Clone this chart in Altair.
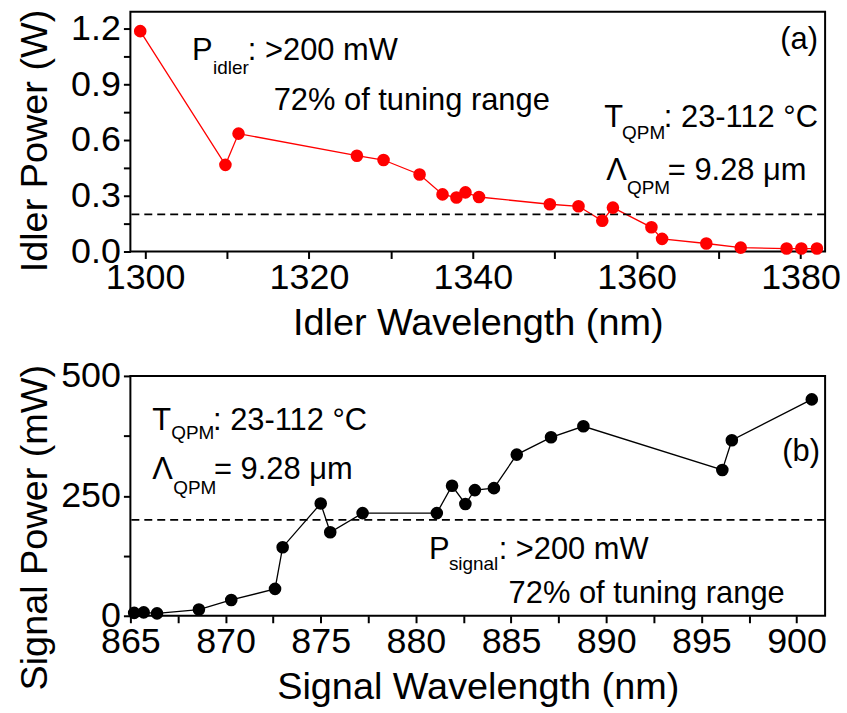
import altair as alt
import pandas as pd

FONT = "Liberation Sans"

# ---------------- data ----------------
idler_wl = [1299.4, 1309.8, 1311.4, 1325.85, 1329.1, 1333.5, 1336.3, 1338.0, 1339.1, 1340.75,
            1349.4, 1352.9, 1355.8, 1357.1, 1361.8, 1363.1, 1368.5, 1372.7, 1378.3, 1380.1, 1382.0]
idler_pw = [1.185, 0.466, 0.634, 0.515, 0.492, 0.414, 0.307, 0.290, 0.318, 0.293,
            0.254, 0.243, 0.165, 0.236, 0.130, 0.068, 0.043, 0.021, 0.016, 0.016, 0.016]

signal_wl = [865.2, 865.7, 866.4, 868.6, 870.3, 872.6, 873.0, 875.0, 875.5, 877.2, 881.1,
             881.9, 882.6, 883.1, 884.1, 885.3, 887.1, 888.8, 896.1, 896.6, 900.8]
signal_pw = [6, 7, 5, 13, 33, 56, 143, 234, 174, 214, 214,
             271, 233, 262, 266, 336, 372, 395, 304, 366, 451]

idler_threshold = [0.2]
signal_threshold = [200]

idler_x_major = [1300, 1320, 1340, 1360, 1380]
idler_x_minor = [1310, 1330, 1350, 1370]
idler_y_major = [0.0, 0.3, 0.6, 0.9, 1.2]
idler_y_minor = [0.15, 0.45, 0.75, 1.05]

signal_x_major = [865, 870, 875, 880, 885, 890, 895, 900]
signal_x_minor = [867.5, 872.5, 877.5, 882.5, 887.5, 892.5, 897.5]
signal_y_major = [0, 250, 500]
signal_y_minor = [125, 375]

W, H = 698, 241
TICK = 7


def txt(s, x, y, size=31):
    return alt.Chart(pd.DataFrame({"d": [0]})).mark_text(
        text=s, x=x, y=y, align="left", baseline="alphabetic",
        font=FONT, fontSize=size, color="black")


def major_only(maj):
    lst = ",".join(repr(float(v)) for v in maj)
    return f"indexof([{lst}], datum.value) >= 0 ? datum.label : ''"


def panel(wl, pw, thr, xdom, ydom, xmaj, xmin, ymaj, ymin, color, xtitle, ytitle,
          yfmt, title_y, annotations):
    df = pd.DataFrame({"wl": wl, "pw": pw})
    xs = alt.Scale(domain=xdom, nice=False, zero=False)
    ys = alt.Scale(domain=ydom, nice=False, zero=False)

    xvals = sorted(xmaj + xmin)
    yvals = sorted(ymaj + ymin)

    line = alt.Chart(df).mark_line(color=color, strokeWidth=1.3).encode(
        x=alt.X("wl:Q", scale=xs, axis=alt.Axis(
            values=xvals, labelExpr=major_only(xmaj),
            ticks=True, tickSize=TICK, tickWidth=2, tickColor="#000000",
            domain=False, grid=False, labelFlush=False,
            labelOverlap=False, labelFontSize=36, labelPadding=2, format="d",
            title=xtitle, titleFontSize=38, titlePadding=9)),
        y=alt.Y("pw:Q", scale=ys, axis=alt.Axis(
            values=yvals, labelExpr=major_only(ymaj),
            ticks=True, tickSize=TICK, tickWidth=2, tickColor="#000000",
            domain=False, grid=False, labelFlush=False,
            labelOverlap=False, labelFontSize=36, labelPadding=3, format=yfmt,
            title=ytitle, titleFontSize=38, titlePadding=14, titleY=title_y,
            minExtent=62, maxExtent=62)),
    )
    pts = alt.Chart(df).mark_circle(color=color, size=160, opacity=1).encode(
        x=alt.X("wl:Q", scale=xs, axis=None),
        y=alt.Y("pw:Q", scale=ys, axis=None),
    )

    rule = alt.Chart(pd.DataFrame({"t": thr})).mark_rule(
        color="black", strokeWidth=1.8, strokeDash=[8, 5]).encode(
        y=alt.Y("t:Q", scale=ys, axis=None))

    texts = [txt(*a) for a in annotations]
    return alt.layer(line, rule, pts, *texts).resolve_axis(
        x="independent", y="independent").properties(width=W, height=H)


top = panel(
    idler_wl, idler_pw, idler_threshold, [1298.2, 1383.0], [0, 1.29],
    idler_x_major, idler_x_minor, idler_y_major, idler_y_minor, "#ff0000",
    "Idler Wavelength (nm)", "Idler Power (W)", ".1f", 129.5,
    [("P", 62, 49), ("idler", 83, 63, 19), (": >200 mW", 118, 49),
     ("72% of tuning range", 144, 99),
     ("(a)", 653, 38),
     ("T", 476, 116), ("QPM", 494, 128, 19), (": 23-112 °C", 536, 116),
     ("Λ", 478, 169), ("QPM", 499, 183, 19), ("= 9.28 μm", 540, 169)],
)

bottom = panel(
    signal_wl, signal_pw, signal_threshold, [865, 901.5], [0, 500],
    signal_x_major, signal_x_minor, signal_y_major, signal_y_minor, "black",
    "Signal Wavelength (nm)", "Signal Power (mW)", "d", 152,
    [("T", 22, 54), ("QPM", 41, 63, 19), (": 23-112 °C", 83, 54),
     ("Λ", 22, 104), ("QPM", 43, 119, 19), ("= 9.28 μm", 84, 104),
     ("P", 300, 184), ("signal", 320, 195, 19), (": >200 mW", 370, 184),
     ("72% of tuning range", 380, 228),
     ("(b)", 655, 85)],
)

chart = alt.vconcat(top, bottom, spacing=14).configure_view(
    stroke="black", strokeWidth=2
).configure_axis(
    labelFont=FONT, titleFont=FONT, labelColor="black", titleColor="black",
    titleFontWeight="normal"
).properties(
    padding={"left": 15, "top": 6, "right": 5, "bottom": 5},
    background="white",
)

chart.save("out.html", embed_options={"renderer": "svg", "actions": False})
